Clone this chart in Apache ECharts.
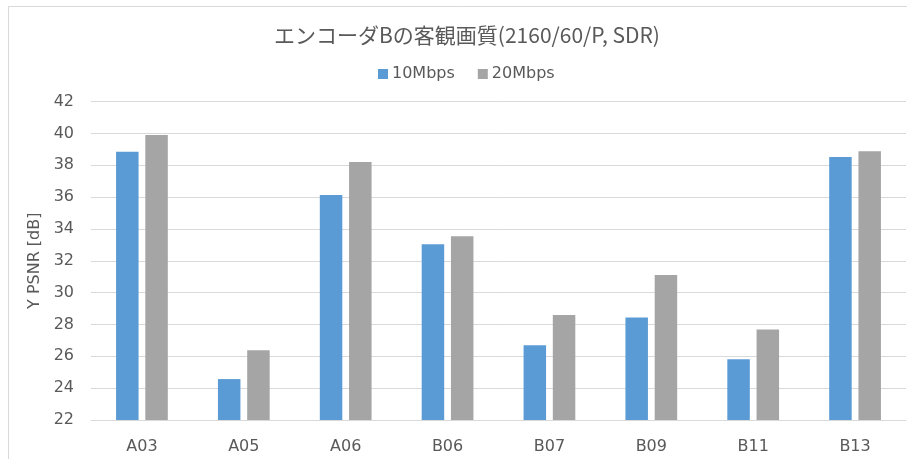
<!DOCTYPE html>
<html>
<head>
<meta charset="utf-8">
<script src="https://cdn.jsdelivr.net/npm/echarts@6/dist/echarts.min.js"></script>
<style>
  html, body { margin: 0; padding: 0; background: #ffffff; }
  #chart { width: 907px; height: 459px; }
</style>
</head>
<body>
<div id="chart"></div>
<script>
// Test sequences and Y-PSNR results per bitrate
const categories = ['A03', 'A05', 'A06', 'B06', 'B07', 'B09', 'B11', 'B13'];
const seriesNames = ['10Mbps', '20Mbps'];
const psnr10 = [38.85, 24.57, 36.13, 33.03, 26.69, 28.43, 25.81, 38.51];
const psnr20 = [39.90, 26.38, 38.20, 33.54, 28.59, 31.10, 27.69, 38.87];
const titleText = 'エンコーダBの客観画質(2160/60/P, SDR)';
const yAxisName = 'Y PSNR [dB]';

const TITLE_FONT = '"Noto Sans CJK JP", "Noto Sans", sans-serif';
const FONT = '"DejaVu Sans", "Noto Sans", sans-serif';
const TEXT = '#595959';
const GRID = '#d9d9d9';

const chart = echarts.init(document.getElementById('chart'), null, { renderer: 'canvas' });

chart.setOption({
  backgroundColor: '#ffffff',
  animation: false,
  title: {
    text: titleText,
    left: 462,
    textAlign: 'center',
    top: 20,
    textStyle: { fontFamily: TITLE_FONT, fontSize: 21, fontWeight: 'normal', color: TEXT }
  },
  legend: {
    data: seriesNames,
    left: 373,
    top: 61,
    itemWidth: 10,
    itemHeight: 10,
    itemGap: 23,
    icon: 'rect',
    textStyle: { fontFamily: FONT, fontSize: 16, color: TEXT, padding: [0, 0, 0, -1] }
  },
  // chart area border (top and left edges)
  graphic: [{
    type: 'polyline',
    shape: { points: [[8.5, 459], [8.5, 6.5], [907, 6.5]] },
    style: { stroke: GRID, lineWidth: 1, fill: null },
    silent: true
  }],
  grid: { left: 91, right: 1, top: 101.5, bottom: 39, containLabel: false },
  xAxis: {
    type: 'category',
    data: categories,
    axisLine: { lineStyle: { color: GRID, width: 1 } },
    axisTick: { show: false },
    axisLabel: { fontFamily: FONT, fontSize: 16, color: TEXT, margin: 19 }
  },
  yAxis: {
    type: 'value',
    min: 22,
    max: 42,
    interval: 2,
    name: yAxisName,
    nameLocation: 'middle',
    nameGap: 44,
    nameRotate: 90,
    nameTextStyle: { fontFamily: FONT, fontSize: 16, color: TEXT },
    axisLine: { show: false },
    axisTick: { show: false },
    axisLabel: { fontFamily: FONT, fontSize: 16, color: TEXT, margin: 17 },
    splitLine: { lineStyle: { color: GRID, width: 1 } }
  },
  series: [
    {
      name: seriesNames[0],
      type: 'bar',
      data: psnr10,
      barWidth: 22.5,
      barGap: '30%',
      itemStyle: { color: '#5b9bd5' }
    },
    {
      name: seriesNames[1],
      type: 'bar',
      data: psnr20,
      barWidth: 22.5,
      itemStyle: { color: '#a5a5a5' }
    }
  ]
});
</script>
</body>
</html>
